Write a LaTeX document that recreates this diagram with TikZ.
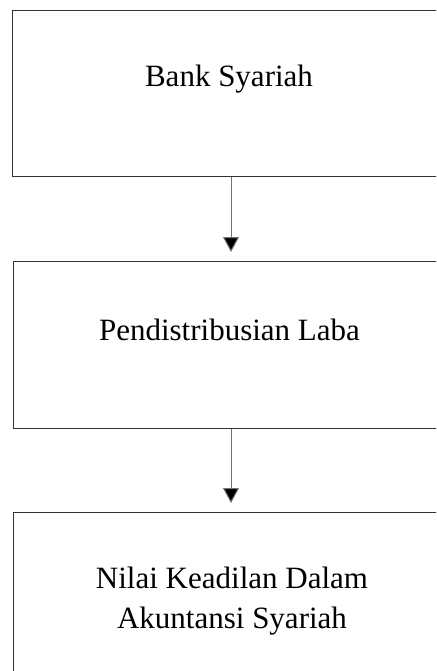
\documentclass[tikz,border=0pt]{standalone}
\usepackage{fontspec}
\setmainfont{Liberation Serif}
\usetikzlibrary{arrows.meta}
\begin{document}
\begin{tikzpicture}[x=1pt,y=-1pt,
  box/.style={draw=black!80,line width=1.1pt,minimum width=438pt,inner sep=0pt,anchor=north west},
  lbl/.style={font=\fontsize{31}{37}\selectfont,anchor=base,inner sep=0pt},
  conn/.style={draw=black!55,line width=1pt,-{Triangle[length=15pt,width=16pt,fill=black]}}]
\useasboundingbox (0,0) rectangle (436,671);
\clip (0,0) rectangle (436,671);
\node[box,minimum height=166pt] (b1) at (12,10) {};
\node[box,minimum height=167pt] (b2) at (13,261) {};
\node[box,minimum height=200pt] (b3) at (13,512) {};
\node[lbl] (t1) at (229,87) {Bank Syariah};
\node[lbl] (t2) at (229.5,340) {Pendistribusian Laba};
\node[lbl] (t3a) at (232,588) {Nilai Keadilan Dalam};
\node[lbl] (t3b) at (232,628) {Akuntansi Syariah};
\coordinate (a1e) at (231,252);
\coordinate (a2e) at (231,503);
\draw[conn] (b1.south -| a1e) -- (a1e);
\draw[conn] (b2.south -| a2e) -- (a2e);
\end{tikzpicture}
\end{document}
